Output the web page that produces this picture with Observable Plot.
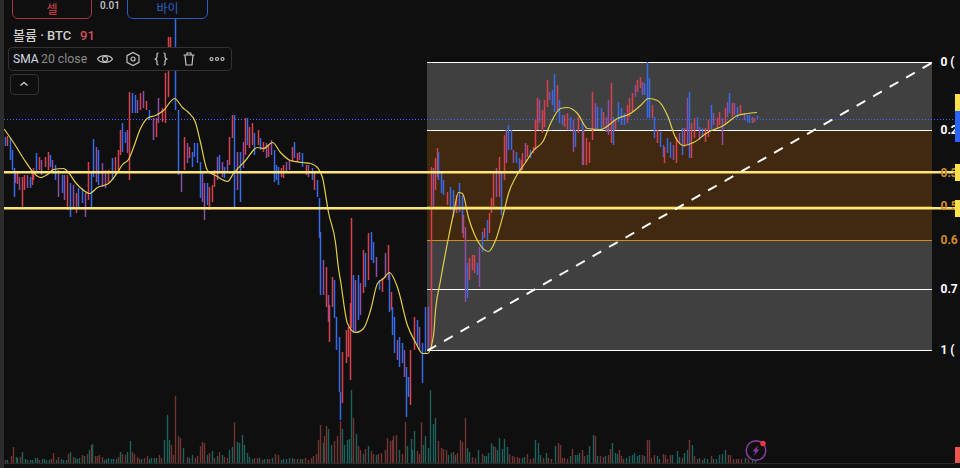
<!DOCTYPE html>
<html lang="ko">
<head>
<meta charset="utf-8">
<script src="https://cdn.jsdelivr.net/npm/d3@7"></script>
<script src="https://cdn.jsdelivr.net/npm/@observablehq/plot@0.6"></script>
<style>
html,body{margin:0;padding:0;background:#0f0f0f;}
#stage{position:relative;width:960px;height:468px;overflow:hidden;background:#0f0f0f;font-family:Roboto,"Noto Sans CJK KR",sans-serif;}
#stage svg.plot{position:absolute;left:0;top:0;display:block;}
.ui{position:absolute;box-sizing:border-box;white-space:nowrap;}
</style>
</head>
<body>
<div id="stage"></div>
<script>
// Candles: time position, high, low, direction (r up, b down, p mixed)
const barT = [
5,7,10,12,14,15,17,19,22,24,
27,30,32,33,36,39,41,45,48,50,
52,55,58,62,64,67,70,73,76,78,
82,85,88,91,93,96,98,102,105,108,
112,115,118,120,122,125,127,129,132,135,
137,140,143,146,149,153,156,158,162,165,
168,170,175,178,181,184,187,189,192,194,
197,200,202,204,207,209,212,214,217,219,
222,224,227,229,232,234,237,240,243,245,
247,249,252,254,258,260,263,266,268,271,
274,276,278,281,283,286,289,292,294,297,
299,302,306,308,312,314,317,319,320,323,
326,328,329,332,334,336,339,340,342,346,
348,350,351,353,355,358,360,363,365,368,
371,373,376,379,382,385,388,389,391,392,
394,397,399,402,404,406,408,410,414,417,
419,422,425,428,431,433,435,437,438,441,
443,447,450,453,456,459,462,463,465,467,
469,472,474,477,479,482,484,487,489,491,
493,496,499,501,504,506,508,511,513,516,
519,521,522,525,527,530,533,535,537,539,
542,544,547,549,552,554,557,559,562,564,
567,570,573,575,578,582,583,586,589,592,
595,597,601,603,606,608,611,613,615,618,
621,624,627,629,632,635,637,640,642,644,
647,649,652,654,657,660,663,664,667,670,
673,676,679,682,684,687,689,691,694,697,
699,702,705,708,711,713,717,719,722,725,
727,729,732,734,737,740,744,747,749,752,
754,757];
const barHigh = [
331,332,330,318,300,295,296,291,291,293,
293,291,295,300,315,311,308,311,316,313,
308,303,298,293,293,293,285,283,275,280,
280,275,306,295,329,321,318,305,298,298,
310,311,318,338,345,336,338,376,375,373,
368,375,377,367,358,350,350,370,360,395,
431,431,451,358,295,331,325,321,316,325,
325,306,296,285,285,281,283,298,311,313,
306,301,308,331,353,353,316,316,326,350,
350,341,345,335,338,330,326,325,323,328,
318,303,301,300,303,306,308,321,326,315,
316,315,303,303,300,295,288,270,236,208,
201,173,163,191,188,151,131,76,116,138,
141,165,250,193,188,193,185,218,215,235,
236,226,211,188,190,215,223,196,176,161,
151,128,131,125,118,101,91,118,151,148,
141,125,161,161,301,300,310,320,316,295,
288,276,281,278,273,285,273,253,241,205,
210,213,213,205,221,236,240,248,255,270,
295,300,311,296,333,338,343,338,318,316,
310,308,315,325,323,318,321,348,370,368,
358,368,388,376,378,394,383,368,353,353,
355,351,348,338,351,346,338,330,326,376,
365,361,360,356,351,368,385,351,348,366,
360,355,363,370,375,383,388,391,386,385,
406,390,363,351,338,336,323,321,330,326,
323,331,335,340,340,370,376,345,350,351,
341,340,340,348,363,355,350,356,350,360,
366,375,365,365,361,363,355,353,353,351,
350,352];
const barLow = [
322,322,308,298,271,285,284,278,261,278,
280,280,283,288,296,298,293,301,298,301,
296,288,271,275,268,258,251,261,255,261,
265,251,268,261,291,286,283,281,280,285,
288,293,296,313,316,325,315,288,355,355,
355,358,360,358,348,328,331,345,346,345,
371,413,358,293,276,298,305,310,301,311,
305,270,266,248,263,258,266,281,288,295,
291,290,295,303,330,261,278,266,300,313,
323,320,323,313,323,318,316,310,311,313,
286,288,283,291,290,296,298,306,310,306,
308,301,293,291,288,278,271,230,173,173,
161,146,126,161,150,118,76,48,65,105,
111,88,140,135,135,148,153,175,181,188,
208,205,191,178,176,190,188,156,158,133,
115,108,101,105,91,51,71,63,118,123,
118,85,115,116,118,261,278,291,288,275,
273,263,258,251,255,256,235,230,166,170,
188,198,195,193,181,216,230,228,235,255,
261,271,271,253,288,305,318,318,305,305,
296,295,298,306,311,310,315,318,338,345,
335,341,361,368,363,356,358,345,343,341,
338,338,316,321,335,303,303,303,305,328,
338,338,338,341,336,333,325,323,338,346,
343,343,345,351,356,371,376,380,373,373,
350,350,350,330,325,321,311,305,315,310,
308,305,325,313,321,323,310,310,330,338,
328,331,326,331,338,343,340,343,323,343,
351,355,351,353,350,353,348,346,345,345,
346,349];
const barDir = (
"brbbbprprr"+"pbrrbrprrb"+"pbpbprbprb"+"bprbbpbppr"+"brrrbbprbb"+
"prprbprprr"+"rrbbprprbb"+"bbppbrrrpb"+"pbprrbpbpr"+"brrbrbrprp"+
"bbbrrpprbr"+"pbrpbrbbbp"+"rprrbbbbrr"+"rrrbpbprbr"+"bbpbrprbrb"+
"bpbbpbbrrb"+"pbbprprrbb"+"brbbrbbrpb"+"rrrbpbrbrr"+"rprbrpbbpb"+
"brrprbrrrp"+"rrrpbbrbbr"+"rbpbrbrrrr"+"pbbrpprbrb"+"bbrrrprrpb"+
"bbrbrbbrbb"+"prpbrpbrrb"+"pbrrbprrpr"+"pbrpbrpbbp"+"rb").split("");

// 20-period moving average, as read
const smaT = [4,13,23,33,40,47,53,63,68,75,82,89,97,108,117,122,128,133,140,148,155,163,174,182,188,195,200,207,215,227,233,245,257,263,272,280,290,302,310,317,322,328,335,338,340,347,355,363,370,377,383,389,397,407,415,422,427,433,435,440,448,453,458,462,468,480,488,495,503,508,515,525,533,543,550,560,567,577,587,600,617,630,640,648,657,667,675,683,693,707,723,737,747,756];
const smaVal = [339,326,310,296,291,294,299,300,296,286,279,275,281,285,296,304,309,321,340,351,353,358,370,361,356,346,326,298,293,287,295,308,321,320,326,316,308,306,305,301,291,256,226,200,188,145,136,140,158,185,190,196,181,143,126,115,115,133,158,188,231,255,276,275,251,223,217,228,255,275,291,306,318,328,345,360,361,355,340,339,350,355,363,370,368,353,331,323,326,336,343,353,355,356];

// Volume
const volT = [
5,7,11,13,16,17,20,22,25,27,
30,32,35,37,39,42,44,46,49,51,
53,56,58,61,63,66,68,70,73,75,
77,79,82,84,87,89,91,92,95,97,
99,102,104,106,108,111,113,116,118,120,
122,125,127,130,132,134,137,139,141,144,
147,149,151,154,156,159,161,164,167,169,
171,173,175,178,180,183,187,189,192,195,
197,200,202,204,207,209,212,214,217,219,
222,224,227,229,232,234,237,239,242,244,
247,249,252,254,257,259,262,264,267,269,
272,275,278,281,283,286,289,292,294,297,
300,302,305,308,311,313,316,318,320,323,
324,326,328,331,334,337,340,342,344,347,
349,351,353,356,358,360,363,365,368,371,
373,376,378,381,385,387,390,392,393,396,
399,402,405,407,411,412,414,417,419,421,
423,425,428,430,433,435,438,441,443,446,
448,451,453,455,457,460,462,465,467,469,
472,475,478,
482,484,486,488,491,493,495,497,499,502,
504,507,509,512,514,517,519,522,524,527,
530,533,535,538,540,543,546,548,551,555,
558,560,562,564,567,570,572,575,577,579,
582,584,587,589,593,595,597,600,603,605,
608,610,612,615,617,619,621,623,626,629,
632,634,637,639,642,644,647,649,651,654,
657,659,663,665,667,670,672,677,679,682,
684,687,689,692,694,697,699,702,704,707,
711,713,716,719,722,725,728,730,733,736,
738,741,745,748,752,755];
const volSize = [
3,3,7,16,6,5,6,11,4,3,
3,3,5,5,3,4,4,3,3,4,
10,3,6,4,3,3,9,11,6,5,
4,5,8,7,9,13,18,19,7,7,
8,6,3,4,5,4,4,4,6,11,
9,8,11,22,11,9,6,4,4,5,
7,4,5,5,5,8,5,23,48,23,
18,8,67,27,25,15,6,5,8,5,
7,17,21,20,8,10,12,5,7,11,
8,6,5,13,16,41,21,20,28,18,
10,6,4,5,5,5,3,4,4,4,
5,9,8,3,4,4,5,5,4,4,
4,4,5,3,5,7,9,23,38,20,
27,37,34,18,22,27,42,34,18,23,
24,73,45,29,17,13,9,14,17,12,
9,8,9,10,13,25,22,23,27,28,
13,9,41,17,24,13,32,12,9,41,
18,27,15,73,39,45,22,15,14,13,
8,10,11,8,10,23,21,45,15,11,
6,5,13,
9,7,7,10,20,17,16,13,25,14,
24,16,9,7,6,6,5,5,6,9,
4,5,23,20,8,5,10,5,4,17,
20,18,5,5,4,7,14,8,8,10,
13,7,8,17,28,27,7,7,6,7,
8,14,20,10,9,13,7,4,5,7,
8,10,7,8,8,7,23,23,5,8,
7,4,9,8,4,8,8,12,6,5,
10,13,23,18,7,4,5,3,5,4,
7,4,4,8,9,13,8,8,4,4,
4,4,5,4,3,3];
const volDir = (
"rgrrggrggg"+"ggggrggggr"+"rgrgggrgrg"+"ggrgrgrgrr"+"rrggggggrg"+
"rrggrrrrgr"+"rggggrrggg"+"rrrrrgrggr"+"rrrrgrgrgr"+"grrggrgggg"+
"gggrrgrggr"+"grrgggggrg"+"rgrrrrrrrg"+"rrggrrrggg"+"ggrgrrgrgr"+
"rgrrrrrrrr"+"grrggggrrr"+"ggggggrrrr"+"ggrgrrrrgg"+"rrg"+
"rgggggrggg"+"ggrrrrrggr"+"rrgggrgrrg"+"rrrrrgrggg"+"rrgggrgrrg"+
"rrgggrrrgg"+"ggggrgrrrr"+"ggrrrrgggr"+"ggrgrrgrgg"+"rgggggrrrr"+"rrgrgg").split("");

// Fibonacci retracement
const fibStartT = 427, fibEndT = 932;
const fibTopPrice = 406, fibBottomPrice = 118;
const fibRatios = [0, 0.236, 0.382, 0.5, 0.618, 0.786, 1];
const fibLabels = ["0 (", "0.2", "0.3", "0.5", "0.6", "0.7", "1 ("];
const fibColors = ["#ffffff", "#ffffff", "#d28c1e", "#d28c1e", "#d28c1e", "#ffffff", "#ffffff"];
const fibBandFrom = [0, 0.236, 0.618];
const fibBandTo = [0.236, 0.618, 1];
const fibBandFill = ["#404040", "#41290f", "#404040"];

// Horizontal levels and right-hand price tags
const yellowLevels = [296.3, 260.3];
const midLevel = 261;
const lastPrice = 349;
const tagFrom = [374, 357, 304, 268, 21];
const tagTo = [357, 326, 287, 251, 5];
const tagFill = ["#ffe14d", "#2962ff", "#ffe14d", "#ffe14d", "#ef5350"];

// Chart furniture texts
const volumeTitle = "볼륨 · BTC", volumeValue = "91";
const smaName = "SMA", smaArgs = "20 close";
const sellText = "셀", buyText = "바이", lotText = "0.01";

const fibPrice = r => Math.floor(fibTopPrice - r * (fibTopPrice - fibBottomPrice));
const dirColor = {r: "#d8404e", b: "#356be8", p: "#8f4fa6"};
const volColor = {r: "#733532", g: "#1d625a"};
const idx = a => a.map((_, i) => i);

const plot = Plot.plot({
  width: 960, height: 468, margin: 0,
  x: {domain: [0, 960], axis: null},
  y: {domain: [0, 468], axis: null},
  style: {background: "#0f0f0f"},
  marks: [
    Plot.rect(idx(fibBandFrom), {
      x1: () => fibStartT, x2: () => fibEndT,
      y1: i => fibPrice(fibBandFrom[i]), y2: i => fibPrice(fibBandTo[i]),
      fill: i => fibBandFill[i]
    }),
    Plot.ruleY(idx(fibRatios).filter(i => i !== 2 && i !== 3), {
      x1: fibStartT, x2: fibEndT, y: i => fibPrice(fibRatios[i]),
      stroke: i => fibRatios[i] === 0.618 ? "#d28c1e" : "#ffffff", strokeWidth: 1
    }),
    Plot.ruleY([midLevel], {x1: fibStartT, x2: fibEndT, stroke: "#d28c1e", strokeWidth: 2}),
    Plot.ruleY([lastPrice], {x1: 4, x2: 955, stroke: "#3a6eff", strokeWidth: 1, strokeDasharray: "1 2"}),
    Plot.ruleX(idx(volT), {
      x: i => volT[i], y1: () => 5, y2: i => 5 + volSize[i],
      stroke: i => volColor[volDir[i]], strokeWidth: 1.4
    }),
    Plot.ruleX(idx(barT), {
      x: i => barT[i], y1: i => barLow[i], y2: i => barHigh[i],
      stroke: i => dirColor[barDir[i]], strokeWidth: 1.5
    }),
    Plot.line(idx(smaT), {
      x: i => smaT[i], y: i => smaVal[i],
      stroke: "#e3cf48", strokeWidth: 1.2, curve: "monotone-x"
    }),
    Plot.ruleY(yellowLevels, {x1: 4, x2: 955, stroke: "#ffe67a", strokeWidth: 2.4}),
    Plot.link([0], {
      x1: () => fibStartT, y1: () => fibBottomPrice, x2: () => fibEndT, y2: () => fibTopPrice,
      stroke: "#ffffff", strokeWidth: 2, strokeDasharray: "10 9"
    }),
    Plot.text(idx(fibRatios), {
      x: () => 940, y: i => fibPrice(fibRatios[i]), text: i => fibLabels[i],
      fill: i => fibColors[i], textAnchor: "start", fontSize: 12, fontWeight: 700,
      fontFamily: "Roboto, sans-serif"
    }),
    Plot.rect(idx(tagFill), {
      x1: () => 955, x2: () => 960, y1: i => tagFrom[i], y2: i => tagTo[i],
      fill: i => tagFill[i]
    })
  ]
});

const stage = document.getElementById("stage");
stage.appendChild(plot);

function ui(css, html) {
  const d = document.createElement("div");
  d.className = "ui";
  d.style.cssText = css;
  d.innerHTML = html || "";
  stage.appendChild(d);
  return d;
}
const grey = "#cfcfcf";
const box = "background:#0f0f0f;border:1px solid #343434;border-radius:4px;";
// Left strip and bottom rule
ui("left:0;top:0;width:4px;height:468px;background:#2c2c2c;");
ui("left:4px;top:463px;width:951px;height:1px;background:#2c2c2c;");
// Order buttons
ui("left:12px;top:-12px;width:80px;height:31px;border:1px solid #a8323c;border-radius:6px;background:#0f0f0f;");
ui("left:12px;top:2px;width:80px;text-align:center;color:#d9434f;font-size:12px;line-height:16px;", sellText);
ui("left:100px;top:0;color:#c8c8c8;font-size:10px;font-weight:500;line-height:11px;", lotText);
ui("left:127px;top:-12px;width:81px;height:31px;border:1px solid #2a5cc4;border-radius:6px;background:#0f0f0f;");
ui("left:127px;top:1px;width:81px;text-align:center;color:#2f62c8;font-size:12px;line-height:16px;", buyText);
// Legend
ui("left:13px;top:27px;color:" + grey + ";font-size:13px;line-height:18px;font-weight:500;", volumeTitle);
ui("left:80px;top:27px;color:#d2505a;font-size:13px;line-height:18px;font-weight:500;", volumeValue);
// Indicator toolbar
ui("left:8px;top:47px;width:224px;height:24px;" + box);
ui("left:13px;top:50px;color:#d6dae2;font-size:12px;line-height:18px;", smaName);
ui("left:41px;top:50px;color:#8b8b8b;font-size:12.3px;line-height:18px;", smaArgs);
const icon = (x, y, inner) => ui("left:" + x + "px;top:" + y + "px;width:18px;height:18px;",
  '<svg width="18" height="18" viewBox="0 0 18 18" fill="none" stroke="#c4c4c4" stroke-width="1.2">' + inner + '</svg>');
icon(96, 50, '<path d="M1.5 9C4 4.5 14 4.5 16.5 9C14 13.5 4 13.5 1.5 9Z"/><circle cx="9" cy="9" r="2.5"/>');
icon(124, 50, '<path d="M9 2.5L15 5.7V12.3L9 15.5L3 12.3V5.7Z"/><circle cx="9" cy="9" r="2"/>');
icon(152, 50, '<path d="M6.5 3C4.5 3 5 4.5 5 6.5C5 8 4 9 2.5 9C4 9 5 10 5 11.5C5 13.5 4.5 15 6.5 15M11.5 3C13.5 3 13 4.5 13 6.5C13 8 14 9 15.5 9C14 9 13 10 13 11.5C13 13.5 13.5 15 11.5 15"/>');
icon(180, 50, '<path d="M3.5 5H14.5M7 5V3H11V5M5 5L6 15H12L13 5"/>');
icon(208, 50, '<circle cx="3.5" cy="9" r="1.5"/><circle cx="9" cy="9" r="1.5"/><circle cx="14.5" cy="9" r="1.5"/>');
// Collapse button
ui("left:10px;top:74px;width:29px;height:21px;" + box);
icon(15, 75, '<path d="M5.5 10.5L9 7.5L12.5 10.5" stroke-width="1.5"/>');
// Lightning badge
ui("left:745px;top:439px;width:24px;height:24px;",
  '<svg width="24" height="24" viewBox="0 0 24 24" fill="none"><circle cx="11" cy="11.5" r="9.8" stroke="#8a3da0" stroke-width="1.5"/><path d="M13.5 6L7.5 12.5H10.5L8.5 17L14.5 10.5H11.5Z" fill="#8a3da0"/><circle cx="18" cy="4.5" r="2.7" fill="#f23645"/></svg>');
</script>
</body>
</html>
